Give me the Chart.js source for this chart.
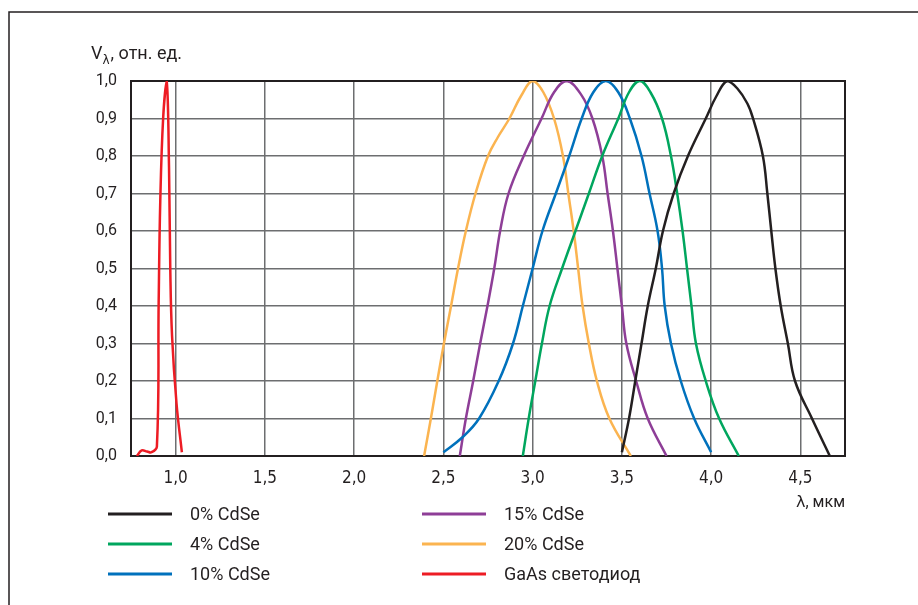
<!DOCTYPE html>
<html>
<head>
<meta charset="utf-8">
<script src="https://cdn.jsdelivr.net/npm/chart.js@4"></script>
<style>
  html, body { margin: 0; padding: 0; background: #fff; }
  canvas { display: block; }
</style>
</head>
<body>
<canvas id="chart" width="918" height="605"></canvas>
<script>
// values
const seriesNames = ['0% CdSe', '4% CdSe', '10% CdSe', '15% CdSe', '20% CdSe', 'GaAs светодиод'];

const lambda0 = [3.50, 3.54, 3.575, 3.61, 3.645, 3.69, 3.73, 3.79, 3.87, 3.97, 4.03, 4.09, 4.147, 4.203, 4.235, 4.29, 4.315, 4.337, 4.36, 4.39, 4.43, 4.47, 4.565, 4.665];
const v0 = [0.01, 0.1, 0.2, 0.3, 0.4, 0.5, 0.6, 0.7, 0.8, 0.9, 0.96, 1.0, 0.98, 0.94, 0.9, 0.8, 0.7, 0.6, 0.5, 0.4, 0.3, 0.2, 0.1, 0];

const lambda4 = [2.945, 2.978, 3.015, 3.052, 3.095, 3.165, 3.24, 3.315, 3.39, 3.48, 3.54, 3.60, 3.66, 3.725, 3.775, 3.81, 3.84, 3.865, 3.89, 3.915, 3.97, 4.045, 4.155];
const v4 = [0, 0.1, 0.2, 0.3, 0.4, 0.5, 0.6, 0.7, 0.8, 0.9, 0.97, 1.0, 0.97, 0.9, 0.8, 0.7, 0.6, 0.5, 0.4, 0.3, 0.2, 0.1, 0];

const lambda10 = [2.5, 2.607, 2.70, 2.81, 2.89, 2.945, 3.0, 3.055, 3.13, 3.205, 3.275, 3.34, 3.41, 3.48, 3.545, 3.61, 3.655, 3.70, 3.725, 3.74, 3.775, 3.83, 3.905, 4.0];
const v10 = [0.01, 0.05, 0.1, 0.2, 0.3, 0.4, 0.5, 0.6, 0.7, 0.8, 0.9, 0.97, 1.0, 0.97, 0.9, 0.8, 0.7, 0.6, 0.5, 0.4, 0.3, 0.2, 0.1, 0.01];

const lambda15 = [2.592, 2.626, 2.667, 2.706, 2.747, 2.785, 2.818, 2.865, 2.95, 3.05, 3.12, 3.19, 3.27, 3.335, 3.39, 3.42, 3.45, 3.475, 3.50, 3.525, 3.58, 3.645, 3.75];
const v15 = [0, 0.1, 0.2, 0.3, 0.4, 0.5, 0.6, 0.7, 0.8, 0.9, 0.97, 1.0, 0.965, 0.9, 0.8, 0.7, 0.6, 0.5, 0.4, 0.3, 0.2, 0.1, 0];

const lambda20 = [2.392, 2.43, 2.466, 2.503, 2.543, 2.582, 2.626, 2.68, 2.75, 2.805, 2.87, 2.935, 3.0, 3.06, 3.12, 3.17, 3.20, 3.23, 3.255, 3.28, 3.315, 3.36, 3.43, 3.55];
const v20 = [0, 0.1, 0.2, 0.3, 0.4, 0.5, 0.6, 0.7, 0.8, 0.85, 0.9, 0.96, 1.0, 0.97, 0.9, 0.8, 0.7, 0.6, 0.5, 0.4, 0.3, 0.2, 0.1, 0];

const lambdaGaAs = [0.783, 0.81, 0.84, 0.865, 0.895, 0.905, 0.914, 0.93, 0.95, 0.963, 0.97, 0.98, 1.005, 1.035];
const vGaAs = [0, 0.015, 0.012, 0.01, 0.025, 0.41, 0.68, 0.9, 1.0, 0.77, 0.5, 0.32, 0.14, 0.01];

const xTicks = [1.0, 1.5, 2.0, 2.5, 3.0, 3.5, 4.0, 4.5];
const yTicks = [0, 0.1, 0.2, 0.3, 0.4, 0.5, 0.6, 0.7, 0.8, 0.9, 1.0];

const colors = ['#231f20', '#00a65e', '#0071bc', '#8e3e97', '#fbb450', '#ed1c24'];

const lambdas = [lambda0, lambda4, lambda10, lambda15, lambda20, lambdaGaAs];
const values = [v0, v4, v10, v15, v20, vGaAs];

const fmt = v => v.toFixed(1).replace('.', ',');
const textColor = '#231f20';

const datasets = seriesNames.map((name, i) => ({
    label: name,
    data: lambdas[i].map((x, j) => ({ x: x, y: values[i][j] })),
    borderColor: colors[i],
    borderWidth: 2.5,
    pointRadius: 0,
    fill: false,
    tension: 0.4
}));

// frame, plot border, axis titles and the two-column legend
const decorations = {
    id: 'decorations',
    beforeDraw(chart) {
        const ctx = chart.ctx;
        ctx.save();
        ctx.fillStyle = '#fff';
        ctx.fillRect(0, 0, chart.width, chart.height);
        ctx.strokeStyle = '#231f20';
        ctx.lineWidth = 1.5;
        ctx.beginPath();
        ctx.moveTo(918, 12);
        ctx.lineTo(9, 12);
        ctx.lineTo(9, 605);
        ctx.stroke();
        ctx.restore();
    },
    beforeDatasetsDraw(chart) {
        const ctx = chart.ctx;
        const a = chart.chartArea;
        ctx.save();
        ctx.strokeStyle = '#231f20';
        ctx.lineWidth = 2;
        ctx.strokeRect(a.left, a.top, a.right - a.left, a.bottom - a.top);
        ctx.restore();
    },
    afterDraw(chart) {
        const ctx = chart.ctx;
        const a = chart.chartArea;
        ctx.save();
        ctx.fillStyle = textColor;
        ctx.textBaseline = 'alphabetic';
        // y title
        ctx.font = '18px Roboto';
        ctx.textAlign = 'left';
        let x = 91;
        ctx.fillText('V', x, 59);
        x += ctx.measureText('V').width;
        ctx.font = '12px "DejaVu Sans"';
        ctx.fillText('λ', x, 64);
        x += ctx.measureText('λ').width + 1;
        ctx.font = '18px Roboto';
        ctx.fillText(', отн. ед.', x, 59);
        // x title
        ctx.textAlign = 'right';
        ctx.font = '16px Roboto';
        const unit = ', мкм';
        ctx.fillText(unit, a.right, 507);
        const uw = ctx.measureText(unit).width;
        ctx.font = '16px "DejaVu Sans"';
        ctx.fillText('λ', a.right - uw, 507);
        // legend
        ctx.textAlign = 'left';
        ctx.textBaseline = 'middle';
        ctx.font = '18px Roboto';
        chart.data.datasets.forEach((ds, i) => {
            const col = Math.floor(i / 3);
            const row = i % 3;
            const lx = col === 0 ? 108 : 422;
            const ly = 514 + row * 30;
            ctx.strokeStyle = ds.borderColor;
            ctx.lineWidth = 3;
            ctx.beginPath();
            ctx.moveTo(lx, ly);
            ctx.lineTo(lx + 64, ly);
            ctx.stroke();
            ctx.fillText(ds.label, lx + 82, ly + 1);
        });
        ctx.restore();
    }
};

new Chart(document.getElementById('chart'), {
    type: 'line',
    data: { datasets: datasets },
    plugins: [decorations],
    options: {
        responsive: false,
        animation: false,
        events: [],
        layout: { padding: { left: 0, top: 81, right: 73, bottom: 119 } },
        plugins: {
            legend: { display: false },
            tooltip: { enabled: false }
        },
        scales: {
            x: {
                type: 'linear',
                min: 0.75,
                max: 4.75,
                afterBuildTicks: scale => { scale.ticks = xTicks.map(v => ({ value: v })); },
                afterFit: scale => { scale.height = 30; },
                border: { display: false },
                grid: { color: '#6d6e70', lineWidth: 1.5, drawTicks: false },
                ticks: {
                    padding: 12,
                    color: textColor,
                    font: { family: '"Liberation Sans Narrow", "DejaVu Sans Condensed", Roboto', size: 17 },
                    callback: v => fmt(v)
                }
            },
            y: {
                min: 0,
                max: 1,
                afterBuildTicks: scale => { scale.ticks = yTicks.map(v => ({ value: v })); },
                afterFit: scale => { scale.width = 131; },
                border: { display: false },
                grid: { color: '#6d6e70', lineWidth: 1.5, drawTicks: false },
                ticks: {
                    padding: 14,
                    color: textColor,
                    font: { family: 'Roboto', size: 16 },
                    callback: v => fmt(v)
                }
            }
        }
    }
});
</script>
</body>
</html>
